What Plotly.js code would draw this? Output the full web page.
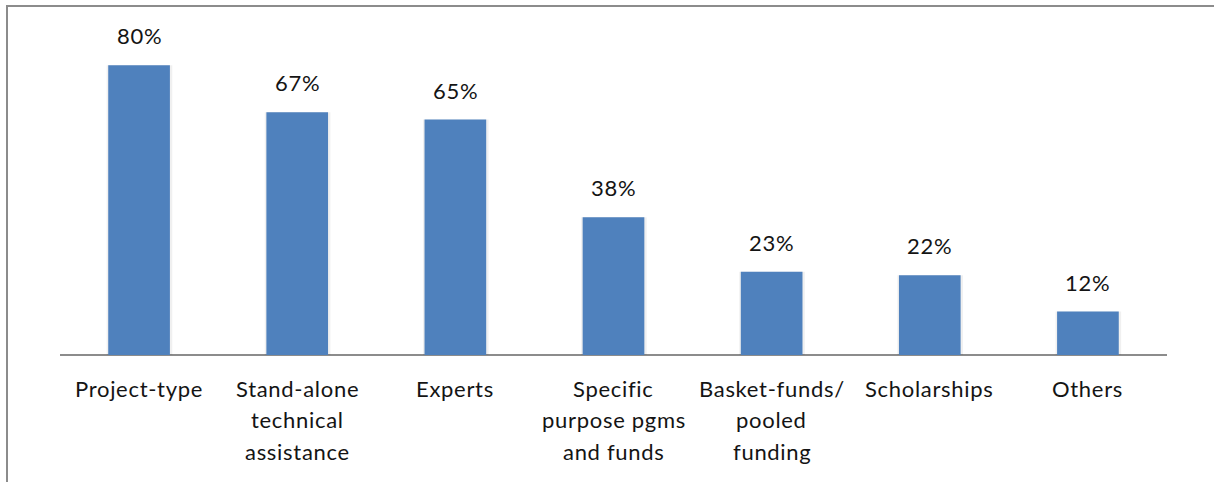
<!DOCTYPE html>
<html>
<head>
<meta charset="utf-8">
<script src="https://cdn.plot.ly/plotly-3.0.1.min.js"></script>
<style>
  html, body { margin: 0; padding: 0; background: #fff; }
  #wrap { position: relative; width: 1214px; height: 482px; }
  #chart { width: 1214px; height: 482px; }
  #frame { position: absolute; left: 6px; top: 5px; right: 0; bottom: -2px;
           border-left: 2px solid #8c8c8c; border-top: 2px solid #8c8c8c; pointer-events: none; }
  .annotation-text { letter-spacing: 0.7px; }
</style>
</head>
<body>
<div id="wrap">
  <div id="chart"></div>
  <div id="frame"></div>
</div>
<script>
const categories = ["Project-type", "Stand-alone<br>technical<br>assistance", "Experts",
  "Specific<br>purpose pgms<br>and funds", "Basket-funds/<br>pooled<br>funding", "Scholarships", "Others"];
const values = [80, 67, 65, 38, 23, 22, 12];
const valueLabels = ["80%", "67%", "65%", "38%", "23%", "22%", "12%"];

const FONT = "Lato, 'Open Sans', sans-serif";
const FS = 22;
const idx = categories.map((_, i) => i);

const annotations = [];
values.forEach((v, i) => {
  annotations.push({
    x: i, y: v, xref: 'x', yref: 'y', text: valueLabels[i], showarrow: false,
    yanchor: 'bottom', yshift: 14, font: { family: FONT, size: FS, color: '#141414' }
  });
});
categories.forEach((c, i) => {
  c.split('<br>').forEach((line, j) => {
    annotations.push({
      x: i, y: 0, xref: 'x', yref: 'paper', text: line, showarrow: false,
      yanchor: 'middle', yshift: -33 - j * 31.5, font: { family: FONT, size: FS, color: '#141414' }
    });
  });
});

const shadow = {
  type: 'bar', x: idx, y: values, width: 0.415, offset: -0.205,
  marker: { color: 'rgba(0,0,0,0.06)', line: { width: 0 } },
  hoverinfo: 'skip'
};
const bars = {
  type: 'bar', x: idx, y: values, width: 0.39,
  marker: { color: '#4F81BD', line: { width: 0 } },
  hoverinfo: 'skip'
};

const layout = {
  width: 1214, height: 482,
  margin: { l: 60, r: 47, t: 29, b: 127 },
  paper_bgcolor: '#fff', plot_bgcolor: '#fff',
  showlegend: false, barmode: 'overlay',
  xaxis: { range: [-0.5, 6.5], tickvals: idx, showticklabels: false, ticks: '',
           showgrid: false, zeroline: false, showline: false, fixedrange: true },
  yaxis: { range: [0, 90], showticklabels: false, ticks: '', showgrid: false,
           zeroline: true, zerolinecolor: '#8c8c8c', zerolinewidth: 1.5, showline: false, fixedrange: true },
  annotations: annotations
};

Plotly.newPlot('chart', [shadow, bars], layout, { displayModeBar: false, staticPlot: true });
</script>
</body>
</html>
